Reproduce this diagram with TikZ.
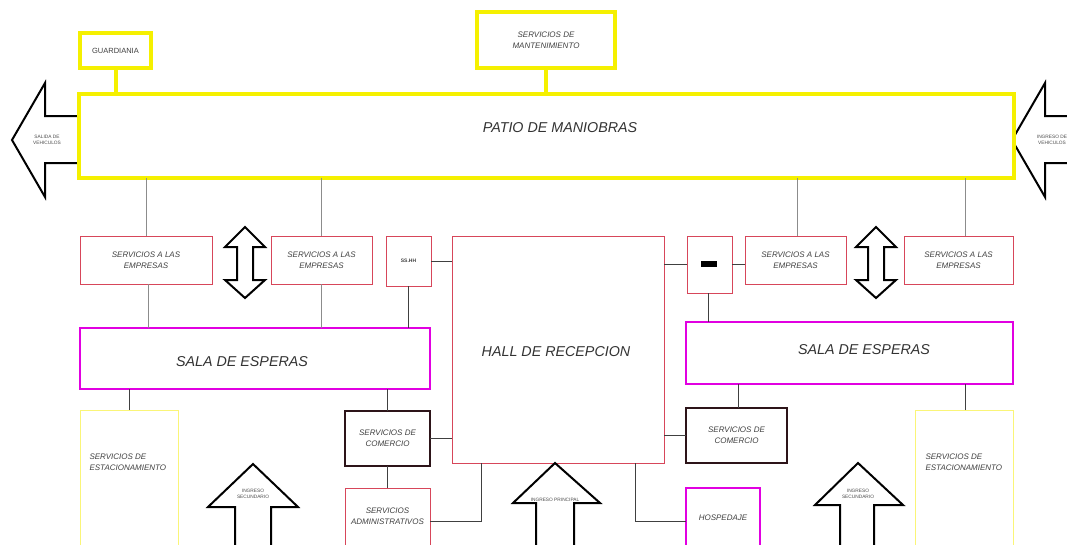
\documentclass[tikz,border=0pt]{standalone}
\usepackage{fontspec}
\setmainfont{Liberation Sans}
\definecolor{ylw}{RGB}{245,240,0}
\definecolor{mag}{RGB}{225,0,225}
\definecolor{redb}{RGB}{215,70,90}
\definecolor{dark}{RGB}{45,20,25}
\definecolor{pale}{RGB}{250,245,120}
\tikzset{
  lbl/.style={font=\fontsize{8}{11}\selectfont\itshape, align=center, text=black!75},
  big/.style={font=\fontsize{14.3}{16}\selectfont\itshape, text=black!80},
  tiny/.style={font=\fontsize{4.8}{5.6}\selectfont, align=center, text=black!70},
  ybox/.style={draw=ylw, line width=4pt, fill=white, inner sep=0pt, outer sep=0pt},
  rbox/.style={draw=redb, line width=0.7pt, fill=white, inner sep=0pt, outer sep=0pt},
  mbox/.style={draw=mag, line width=2.6pt, fill=white, inner sep=0pt, outer sep=0pt},
  kbox/.style={draw=dark, line width=2.6pt, fill=white, inner sep=0pt, outer sep=0pt},
  pbox/.style={draw=pale, line width=0.8pt, fill=white, inner sep=0pt, outer sep=0pt},
  link/.style={draw=black!75, line width=0.8pt},
  glink/.style={draw=black!45, line width=0.8pt},
  ylink/.style={draw=ylw, line width=4pt},
  fat/.style={draw=black, line width=2pt, fill=white, line join=miter},
}
\begin{document}
\begin{tikzpicture}[x=1pt,y=-1pt]
\useasboundingbox (0,0) rectangle (1067,544);
\fill[white] (0,0) rectangle (1067,544);

% side arrows of the yard
\draw[fat] (12,140) -- (45,83) -- (45,116) -- (82,116) -- (82,163) -- (45,163) -- (45,197) -- cycle;
\draw[fat] (1012,140) -- (1045,83) -- (1045,116) -- (1075,116) -- (1075,163) -- (1045,163) -- (1045,197) -- cycle;
\node[tiny] (salida) at (47,140) {SALIDA DE\\VEHICULOS};
\node[tiny] (ingveh) at (1052,140) {INGRESO DE\\VEHICULOS};

% top row
\node[ybox, minimum width=71, minimum height=35] (guard) at (115.5,50.5) {};
\node[lbl, font=\fontsize{7.5}{9}\selectfont] at (guard) {GUARDIANIA};
\node[ybox, minimum width=138, minimum height=56] (mant) at (546,40) {};
\node[lbl] at (mant) {SERVICIOS DE\\MANTENIMIENTO};
\node[ybox, line width=4.5pt, minimum width=935, minimum height=84] (patio) at (546.5,136) {};
\node[big] at (560,128) {PATIO DE MANIOBRAS};
\draw[ylink] (guard.south) -- (guard.south |- patio.north);
\draw[ylink] (mant.south) -- (mant.south |- patio.north);

% second row
\node[rbox, minimum width=132, minimum height=48] (s1) at (146,260) {};
\node[lbl] at (s1) {SERVICIOS A LAS\\EMPRESAS};
\node[rbox, minimum width=101, minimum height=48] (s2) at (321.5,260) {};
\node[lbl] at (s2) {SERVICIOS A LAS\\EMPRESAS};
\node[rbox, minimum width=45, minimum height=50] (sshh) at (408.5,261) {};
\node[lbl, font=\fontsize{5}{6}\selectfont\bfseries] at (sshh) {SS.HH};
\node[rbox, minimum width=212, minimum height=227] (hall) at (558,349.5) {};
\node[big] at (556,352) {HALL DE RECEPCION};
\node[rbox, minimum width=45, minimum height=57] (sbox) at (709.5,264.5) {};
\fill[black] (701,261) rectangle (717,267);
\node[rbox, minimum width=101, minimum height=48] (s3) at (795.5,260) {};
\node[lbl] at (s3) {SERVICIOS A LAS\\EMPRESAS};
\node[rbox, minimum width=109, minimum height=48] (s4) at (958.5,260) {};
\node[lbl] at (s4) {SERVICIOS A LAS\\EMPRESAS};

\draw[glink] (s1.north) -- (s1.north |- patio.south);
\draw[glink] (s2.north) -- (s2.north |- patio.south);
\draw[glink] ([xshift=1.5pt]s3.north) -- ([xshift=1.5pt]s3.north |- patio.south);
\draw[glink] ([xshift=6.5pt]s4.north) -- ([xshift=6.5pt]s4.north |- patio.south);

% double arrows between the service boxes
\foreach \cx/\nm in {245/da, 876/db}{
  \draw[fat] (\cx,227) -- (\cx+20,247) -- (\cx+8,247) -- (\cx+8,280) -- (\cx+20,280)
    -- (\cx,298) -- (\cx-20,280) -- (\cx-8,280) -- (\cx-8,247) -- (\cx-20,247) -- cycle;
  \coordinate (\nm) at (\cx,262);
}

% waiting rooms
\node[mbox, minimum width=350, minimum height=61] (salaL) at (255,358.5) {};
\node[big] at (242,362) {SALA DE ESPERAS};
\node[mbox, minimum width=327, minimum height=62] (salaR) at (849.5,353) {};
\node[big] at (864,350) {SALA DE ESPERAS};

\draw[glink] ([xshift=2pt]s1.south) -- ([xshift=2pt]s1.south |- salaL.north);
\draw[glink] (s2.south) -- (s2.south |- salaL.north);
\draw[link] (sshh.south) -- (sshh.south |- salaL.north);
\draw[link] (sshh.east) -- (sshh.east -| hall.west);
\draw[link] (sbox.west -| hall.east) -- (sbox.west);
\draw[link] (sbox.east) -- (sbox.east -| s3.west);
\draw[link] ([xshift=-1.5pt]sbox.south) -- ([xshift=-1.5pt]sbox.south |- salaR.north);

% lower row
\node[pbox, minimum width=98, minimum height=140] (estL) at (129,480) {};
\node[lbl, align=left, anchor=west] at (86,462) {SERVICIOS DE\\ESTACIONAMIENTO};
\node[kbox, minimum width=85, minimum height=55] (comL) at (387.5,438.5) {};
\node[lbl] at (comL) {SERVICIOS DE\\COMERCIO};
\node[rbox, minimum width=85, minimum height=62] (admL) at (387.5,519) {};
\node[lbl] at (387.5,516) {SERVICIOS\\ADMINISTRATIVOS};
\node[kbox, minimum width=101, minimum height=55] (comR) at (736.5,435.5) {};
\node[lbl] at (comR) {SERVICIOS DE\\COMERCIO};
\node[mbox, minimum width=74, minimum height=62] (hosp) at (723,519) {};
\node[lbl] at (723,518) {HOSPEDAJE};
\node[pbox, minimum width=98, minimum height=140] (estR) at (964,480) {};
\node[lbl, align=left, anchor=west] at (922,462) {SERVICIOS DE\\ESTACIONAMIENTO};

\draw[link] (estL.north) -- (estL.north |- salaL.south);
\draw[link] (comL.north) -- (comL.north |- salaL.south);
\draw[link] (comL.east) -- (comL.east -| hall.west);
\draw[link] (comL.south) -- (admL.north);
\draw[link] ([yshift=-2pt]admL.east) -| ([xshift=-77pt]hall.south);
\draw[link] ([yshift=-2pt]hosp.west) -| ([xshift=77pt]hall.south);
\draw[link] (comR.west -| hall.east) -- (comR.west);
\draw[link] ([xshift=1.5pt]comR.north) -- ([xshift=1.5pt]comR.north |- salaR.south);
\draw[link] ([xshift=1pt]estR.north) -- ([xshift=1pt]estR.north |- salaR.south);

% entrance arrows
\draw[fat] (253,464) -- (298,507) -- (271,507) -- (271,550) -- (235,550) -- (235,507) -- (208,507) -- cycle;
\draw[fat] (555,463) -- (600,503) -- (574,503) -- (574,550) -- (536,550) -- (536,503) -- (513,503) -- cycle;
\draw[fat] (858,463) -- (903,505) -- (874,505) -- (874,550) -- (840,550) -- (840,505) -- (815,505) -- cycle;
\node[tiny] (ingL) at (253,494) {INGRESO\\SECUNDARIO};
\node[tiny] (ingP) at (555,500) {INGRESO PRINCIPAL};
\node[tiny] (ingR) at (858,494) {INGRESO\\SECUNDARIO};
\end{tikzpicture}
\end{document}
